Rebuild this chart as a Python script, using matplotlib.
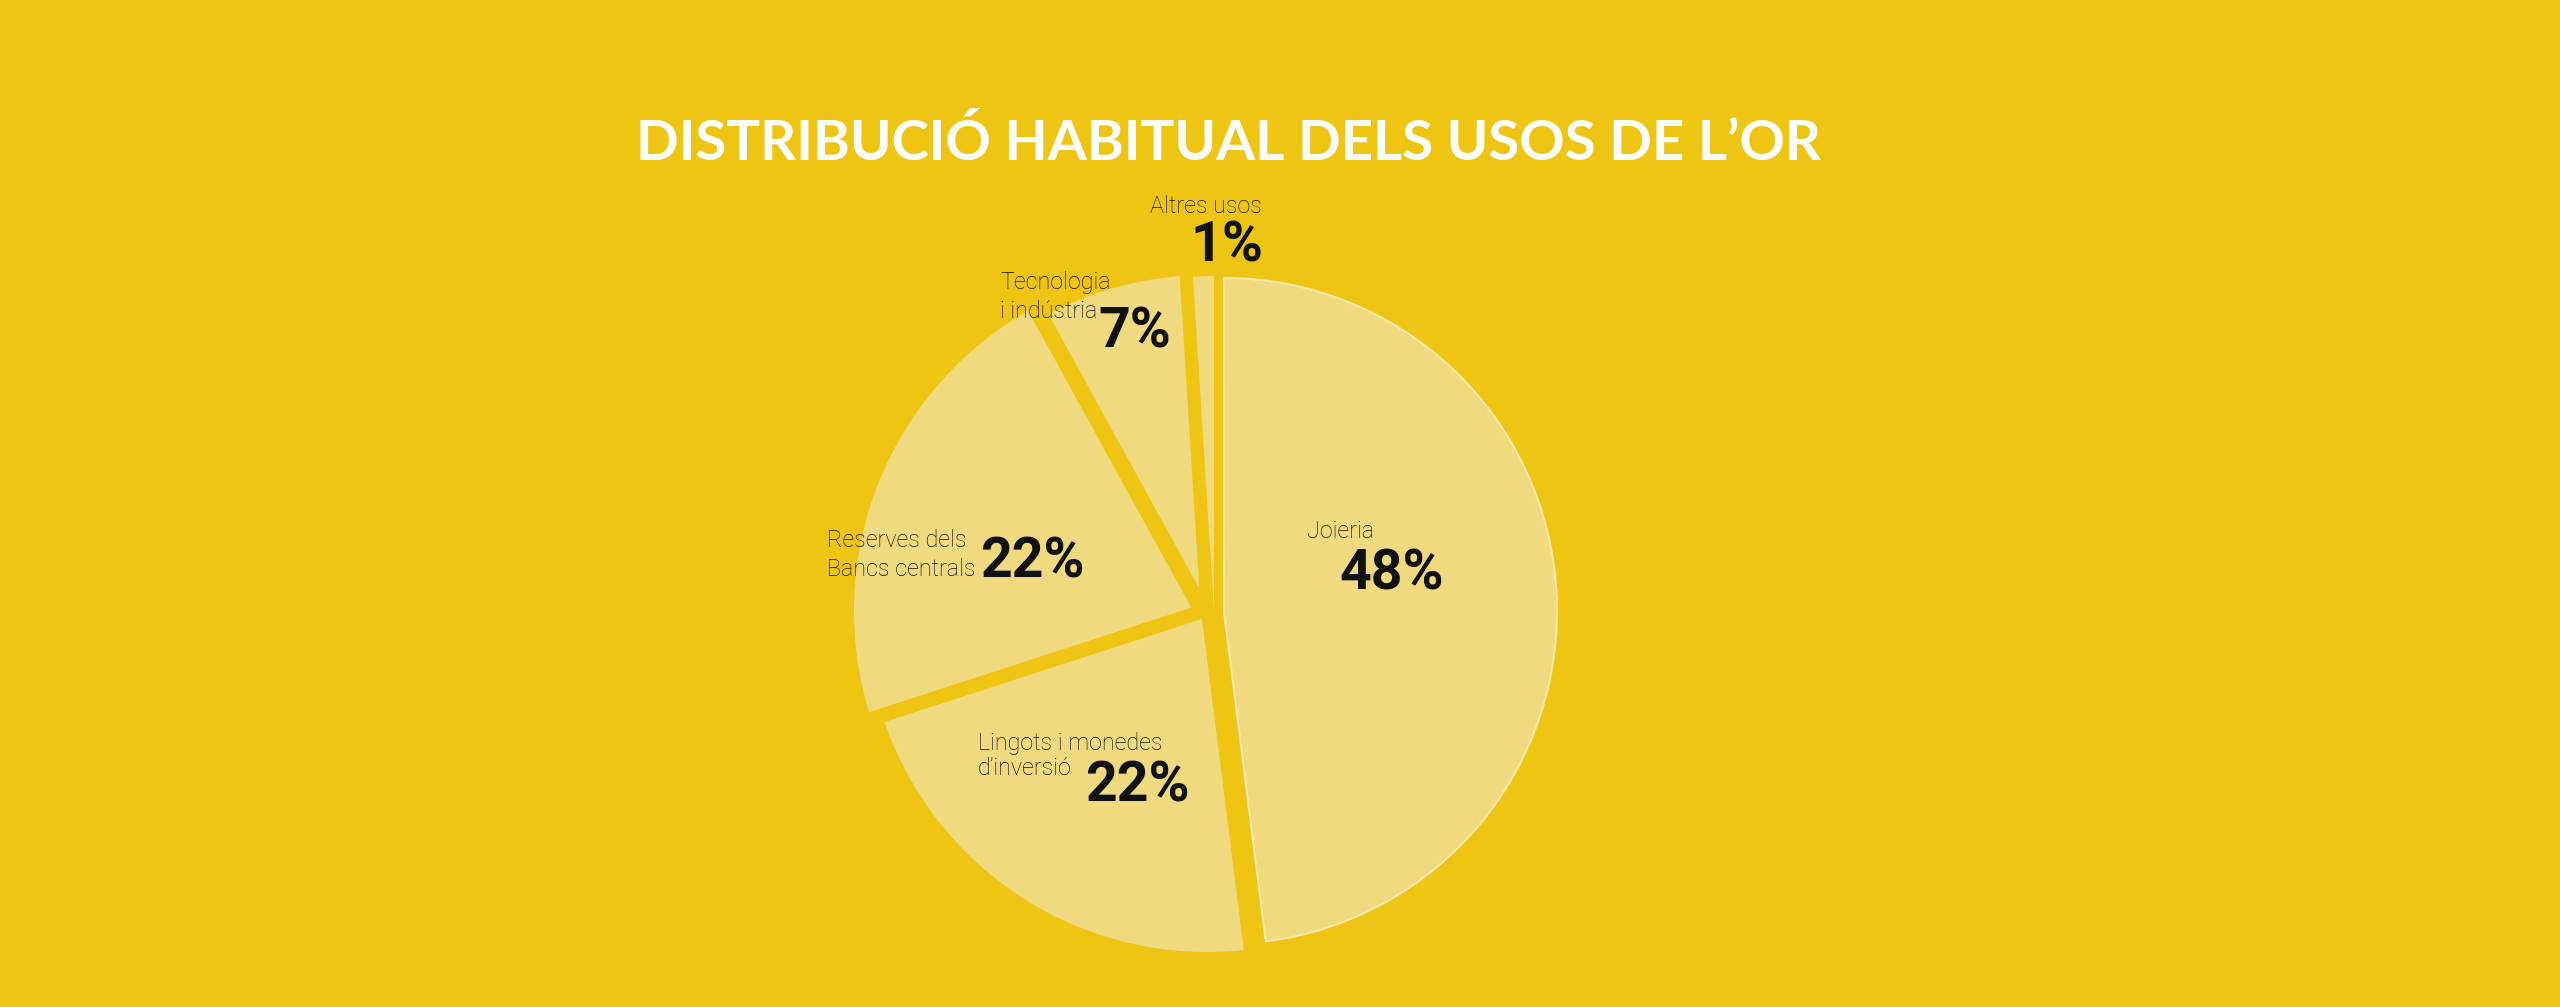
import matplotlib
matplotlib.use("Agg")
import matplotlib.pyplot as plt

# canvas size in pixels (figure drawn at dpi=100)
W, H = 2560, 1007

BG = '#EFC514'
FILL = '#F0DA80'
EDGE_LIGHT = '#F6E8AA'
TXT = '#111111'

title = 'DISTRIBUCIÓ HABITUAL DELS USOS DE L’OR'

# slices, clockwise from 12 o'clock
uses = ['Joieria', 'Lingots i monedes\nd’inversió', 'Reserves dels\nBancs centrals',
        'Tecnologia\ni indústria', 'Altres usos']
shares = [48, 22, 22, 7, 1]

# label placement (image pixels, top-left origin):
# name x / baseline of its last line, pct x / baseline
name_pos = [(1307, 538), (978, 775), (827, 576), (1000, 318), (1150, 213)]
pct_pos = [(1340, 590), (1085, 802), (980, 577), (1098, 347), (1190, 261)]
line_gap = [1.3, 1.1, 1.33, 1.33, 1.3]

# where each wedge's apex sits (image pixels) and its radius
apex = [(1224, 611), (1207, 611), (1200, 611), (1207, 615), (1214, 611)]
radius = [333, 347, 352, 346, 335]


def img(x, y):
    # image coords -> data coords (y up)
    return x, H - y


fig = plt.figure(figsize=(W / 100, H / 100), dpi=100, facecolor=BG)
ax = fig.add_axes([0, 0, 1, 1])
ax.set_facecolor(BG)

wedges, _ = ax.pie(shares, startangle=90, counterclock=False,
                   colors=[FILL] * len(shares),
                   center=img(1200, 611), radius=346,
                   wedgeprops=dict(edgecolor=BG, linewidth=8.6))

for w, c, r in zip(wedges, apex, radius):
    w.set_center(img(*c))
    w.set_radius(r)

# Joieria: thin light rim instead of the gap stroke
wedges[0].set_edgecolor(EDGE_LIGHT)
wedges[0].set_linewidth(1.5)
# Altres usos: too thin for a stroke
wedges[4].set_linewidth(0)

for name, v, (nx, ny), (px, py), ls in zip(uses, shares, name_pos, pct_pos, line_gap):
    ax.text(*img(nx, ny), name, ha='left', va='baseline', fontsize=16.8,
            family='Roboto', weight='light', color=TXT, linespacing=ls)
    ax.text(*img(px, py), f'{v}%', ha='left', va='baseline', fontsize=40,
            family='Roboto', weight='bold', color=TXT)

ax.text(*img(1228, 160), title, ha='center', va='baseline', fontsize=40.5,
        family='Lato', weight='bold', color='white')

ax.set_xlim(0, W)
ax.set_ylim(0, H)
ax.set_aspect('auto')
ax.axis('off')

fig.savefig('out.png', dpi=100, facecolor=BG)
